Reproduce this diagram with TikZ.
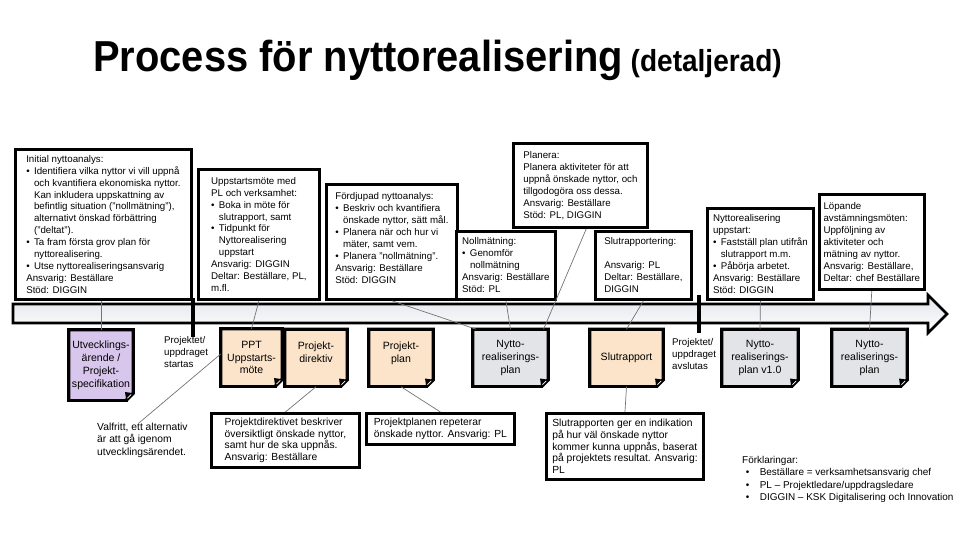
\documentclass[tikz,border=0pt]{standalone}
\usepackage{fontspec}
\setmainfont{Liberation Sans}
\usetikzlibrary{backgrounds}
\definecolor{peach}{HTML}{FCE4CA}
\definecolor{lilac}{HTML}{D9C6EC}
\definecolor{docgray}{HTML}{E2E4E8}
\definecolor{bandgray}{HTML}{E2E4E9}
\newcommand\bul{\makebox[0.8em][l]{\textbullet}}
\newcommand\bindent{\hspace*{0.8em}}
% page with a turned-up corner, drawn round a named node
\newcommand\docpage[3]{%
  \fill[#2] (#1.north west) -- (#1.north east) -- ([yshift=6pt]#1.south east)
    -- ([xshift=-6pt]#1.south east) -- (#1.south west) -- cycle;
  \draw[docline] ([xshift=-6pt]#1.south east) -- ([yshift=6pt]#1.south east)
    -- (#1.north east) -- (#1.north west) -- (#1.south west);
  \draw[docline, line cap=rect, #3] (#1.south west) -- ([xshift=-6pt]#1.south east);
  \fill[black] ([xshift=-6pt]#1.south east) -- ([yshift=6pt]#1.south east)
    -- ([shift={(-7pt,7pt)}]#1.south east) -- cycle;
  \draw[white, line width=0.6pt] ([shift={(-5pt,1.8pt)}]#1.south east)
    .. controls ([shift={(-3.4pt,3.4pt)}]#1.south east) .. ([shift={(-1.8pt,5pt)}]#1.south east);}

\begin{document}
\begin{tikzpicture}[
  x=0.03cm, y=-0.03cm,
  font=\fontsize{8.3}{10.2}\selectfont,
  box/.style={draw=black, line width=2.4pt, fill=white, align=left,
              anchor=north west, inner xsep=3.5pt, inner ysep=2pt},
  note/.style={box, font=\fontsize{8.8}{10}\selectfont, inner xsep=5pt},
  doc/.style={align=center, inner sep=1pt, minimum height=1.71cm,
              font=\fontsize{9}{11}\selectfont},
  docline/.style={draw=black, line width=2.8pt},
  plain/.style={align=left, anchor=north west, inner sep=0pt},
  band/.style={draw=black, line width=2.2pt, top color=bandgray, bottom color=white},
  mile/.style={line width=2.8pt},
  link/.style={draw=black!55, line width=0.6pt},
]
\useasboundingbox (0,0) rectangle (960,540);

\node[anchor=base west, inner sep=0pt] (title) at (93,72)
  {\scalebox{0.92}[1]{\bfseries\fontsize{37}{40}\selectfont Process för nyttorealisering\fontsize{26}{28}\selectfont\ (detaljerad)}};

% ── activity boxes above the time line ─────────────────────────────────────
\node[box, minimum width=5.28cm, minimum height=4.5cm] (init) at (14,148)
  {Initial nyttoanalys:\\
   \bul Identifiera vilka nyttor vi vill uppnå\\
   \bindent och kvantifiera ekonomiska nyttor.\\
   \bindent Kan inkludera uppskattning av\\
   \bindent befintlig situation ("nollmätning"),\\
   \bindent alternativt önskad förbättring\\
   \bindent ("deltat").\\
   \bul Ta fram första grov plan för\\
   \bindent nyttorealisering.\\
   \bul Utse nyttorealiseringsansvarig\\
   Ansvarig: Beställare\\
   Stöd: DIGGIN};
\node[box, minimum width=3.63cm, minimum height=3.9cm] (kick) at (197,168)
  {Uppstartsmöte med\\
   PL och verksamhet:\\
   \bul Boka in möte för\\
   \bindent slutrapport, samt\\
   \bul Tidpunkt för\\
   \bindent Nyttorealisering\\
   \bindent uppstart\\
   Ansvarig: DIGGIN\\
   Deltar: Beställare, PL,\\
   m.fl.};
\node[box, minimum width=3.93cm, minimum height=3.45cm] (deep) at (325,183)
  {Fördjupad nyttoanalys:\\
   \bul Beskriv och kvantifiera\\
   \bindent önskade nyttor, sätt mål.\\
   \bul Planera när och hur vi\\
   \bindent mäter, samt vem.\\
   \bul Planera "nollmätning".\\
   Ansvarig: Beställare\\
   Stöd: DIGGIN\\[-3pt]};
\node[box, minimum width=4.02cm, minimum height=2.52cm] (plan) at (512,142)
  {Planera:\\
   Planera aktiviteter för att\\
   uppnå önskade nyttor, och\\
   tillgodogöra oss dessa.\\
   Ansvarig: Beställare\\
   Stöd: PL, DIGGIN};
\node[box, minimum width=2.97cm, minimum height=2.04cm] (zero) at (455,230)
  {Nollmätning:\\
   \bul Genomför\\
   \bindent nollmätning\\
   Ansvarig: Beställare\\
   Stöd: PL};
\node[box, minimum width=2.88cm, minimum height=2.04cm] (rept) at (594,230)
  {Slutrapportering:\\[10.2pt]
   Ansvarig: PL\\
   Deltar: Beställare,\\
   DIGGIN};
\node[box, minimum width=3.18cm, minimum height=2.73cm] (bstart) at (706,207)
  {Nyttorealisering\\
   uppstart:\\
   \bul Fastställ plan utifrån\\
   \bindent slutrapport m.m.\\
   \bul Påbörja arbetet.\\
   Ansvarig: Beställare\\
   Stöd: DIGGIN};
\node[box, minimum width=3.09cm, minimum height=2.85cm] (sync) at (818,193)
  {Löpande\\
   avstämningsmöten:\\
   Uppföljning av\\
   aktiviteter och\\
   mätning av nyttor.\\
   Ansvarig: Beställare,\\
   Deltar: chef Beställare};

% ── time line with start and end of the project ────────────────────────────
\draw[band] (13,304) -- (928,304) -- (928,295) -- (947,314) -- (928,333)
  -- (928,323) -- (13,323) -- cycle;
\draw[mile] (193,298) -- (193,337);
\draw[mile] (699,295) -- (699,333);
\node[plain] (pstart) at (164,336) {Projektet/\\uppdraget\\startas};
\node[plain] (pend) at (672,338) {Projektet/\\uppdraget\\avslutas};

% ── documents ──────────────────────────────────────────────────────────────
\node[doc, minimum width=1.92cm, minimum height=2.1cm] (devcase) at (101,365)
  {Utvecklings-\\ärende /\\Projekt-\\specifikation};
\node[doc, minimum width=1.83cm] (ppt) at (251.5,357.5) {PPT\\Uppstarts-\\möte};
\node[doc, minimum width=1.86cm] (directive) at (316,358) {Projekt-\\direktiv\\[-1pt]};
\node[doc, minimum width=1.92cm] (projplan) at (401,358) {Projekt-\\plan\\[-1pt]};
\node[doc, minimum width=2.25cm] (bplan1) at (510.5,358) {Nytto-\\realiserings-\\plan};
\node[doc, minimum width=2.19cm] (finalrep) at (626.5,358) {Slutrapport};
\node[doc, minimum width=2.28cm] (bplan2) at (760,358) {Nytto-\\realiserings-\\plan v1.0};
\node[doc, minimum width=2.25cm] (bplan3) at (869.5,358) {Nytto-\\realiserings-\\plan};

\begin{scope}[on background layer]
  \docpage{devcase}{lilac}{solid}
  \docpage{ppt}{peach}{dash pattern=on 3pt off 1.6pt}
  \docpage{directive}{peach}{solid}
  \docpage{projplan}{peach}{solid}
  \docpage{bplan1}{docgray}{solid}
  \docpage{finalrep}{peach}{solid}
  \docpage{bplan2}{docgray}{solid}
  \docpage{bplan3}{docgray}{solid}
\end{scope}

% ── comments below the documents ───────────────────────────────────────────
\node[plain, font=\fontsize{8.8}{10.4}\selectfont] (optnote) at (97,423)
  {Valfritt, ett alternativ\\är att gå igenom\\utvecklingsärendet.};
\node[note, minimum width=4.44cm, minimum height=1.62cm] (dirnote) at (210,412)
  {Projektdirektivet beskriver\\översiktligt önskade nyttor,\\samt hur de ska uppnås.\\Ansvarig: Beställare};
\node[note, minimum width=4.44cm, minimum height=0.93cm] (plannote) at (365,412)
  {Projektplanen repeterar\\önskade nyttor. Ansvarig: PL};
\node[note, minimum width=4.56cm, minimum height=1.98cm] (repnote) at (545,412)
  {Slutrapporten ger en indikation\\på hur väl önskade nyttor\\kommer kunna uppnås, baserat\\på projektets resultat. Ansvarig:\\PL};
\node[plain, font=\fontsize{8.5}{10.6}\selectfont] (legend) at (742,456)
  {Förklaringar:\\
   \hspace*{3pt}\makebox[12pt][l]{\textbullet}Beställare = verksamhetsansvarig chef\\
   \hspace*{3pt}\makebox[12pt][l]{\textbullet}PL – Projektledare/uppdragsledare\\
   \hspace*{3pt}\makebox[12pt][l]{\textbullet}DIGGIN – KSK Digitalisering och Innovation};

% ── links ──────────────────────────────────────────────────────────────────
\draw[link] (init.south -| devcase.north) -- (devcase.north);
\draw[link] (kick.south) -- (ppt.north);
\draw[link] (deep.south) -- ([xshift=3pt]bplan1.north west);
\draw[link] (zero.south) -- (bplan1.north);
\draw[link] ([xshift=5pt]plan.south) -- ([xshift=-4pt]bplan1.north east);
\draw[link] (rept.south) -- (finalrep.north);
\draw[link] (bstart.south) -- (bplan2.north);
\draw[link] (sync.south) -- (bplan3.north);
\draw[link] ([yshift=3pt]ppt.west) -- ([xshift=-3pt]optnote.north);
\draw[link] (directive.south) -- (dirnote.north);
\draw[link] (projplan.south) -- (plannote.north);
\draw[link] (finalrep.south) -- (repnote.north);
\end{tikzpicture}
\end{document}
